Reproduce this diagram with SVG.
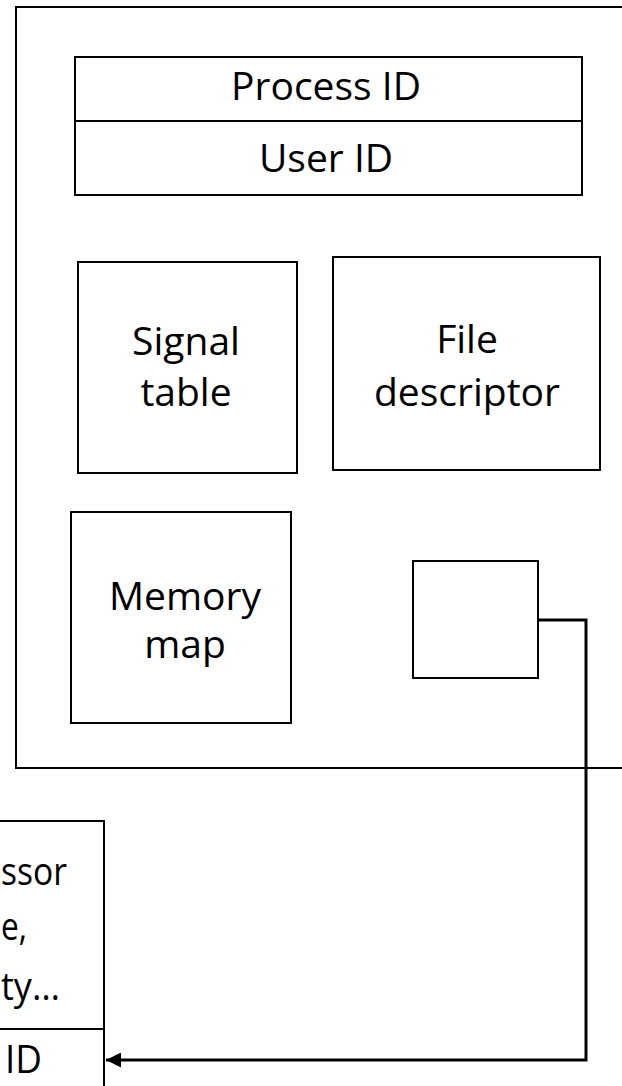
<svg xmlns="http://www.w3.org/2000/svg" width="622" height="1086" viewBox="0 0 622 1086">
<style>
.box{fill:#fff;stroke:#000;stroke-width:2}
.t{font-family:"Open Sans","Liberation Sans",sans-serif;font-size:39px;fill:#000;text-anchor:middle}
.ts{font-family:"Open Sans","Liberation Sans",sans-serif;font-size:39px;fill:#000;text-anchor:start}
.conn{fill:none;stroke:#000;stroke-width:3}
</style>
<defs>
<marker id="arr" markerWidth="15" markerHeight="15" refX="15" refY="7.5" orient="auto" markerUnits="userSpaceOnUse" viewBox="0 0 15 15">
<path d="M0,0 L15,7.5 L0,15 z" fill="#000"/>
</marker>
</defs>
<rect width="622" height="1086" fill="#fff"/>
<g id="process">
<rect class="box" x="16" y="7" width="620" height="761"/>
</g>
<g id="ids">
<rect class="box" x="75" y="57" width="507" height="138"/>
<line x1="75" y1="121" x2="582" y2="121" stroke="#000" stroke-width="2"/>
<text class="t" x="326" y="100">Process ID</text>
<text class="t" x="326" y="172">User ID</text>
</g>
<g id="signal">
<rect class="box" x="78" y="262" width="219" height="211"/>
<text class="t" x="186" y="355">Signal</text>
<text class="t" x="186" y="406">table</text>
</g>
<g id="file">
<rect class="box" x="333" y="257" width="267" height="213"/>
<text class="t" x="467" y="353">File</text>
<text class="t" x="467" y="406">descriptor</text>
</g>
<g id="memory">
<rect class="box" x="71" y="512" width="220" height="211"/>
<text class="t" x="185" y="610">Memory</text>
<text class="t" x="185" y="658">map</text>
</g>
<g id="pointer">
<rect class="box" x="413" y="561" width="125" height="117"/>
</g>
<g id="thread">
<rect class="box" x="-10" y="821" width="114" height="300"/>
<line x1="-10" y1="1029" x2="104" y2="1029" stroke="#000" stroke-width="2"/>
<text class="ts" x="1" y="885" textLength="66" lengthAdjust="spacingAndGlyphs">ssor</text>
<text class="ts" x="1" y="940" textLength="26" lengthAdjust="spacingAndGlyphs">e,</text>
<text class="ts" x="1" y="1000" textLength="59" lengthAdjust="spacingAndGlyphs">ty…</text>
<text class="ts" x="5" y="1073" textLength="37" lengthAdjust="spacingAndGlyphs">ID</text>
</g>
<g id="connectors">
<path class="conn" d="M538 620 H586 V1060 H106" marker-end="url(#arr)"/>
</g>
</svg>
